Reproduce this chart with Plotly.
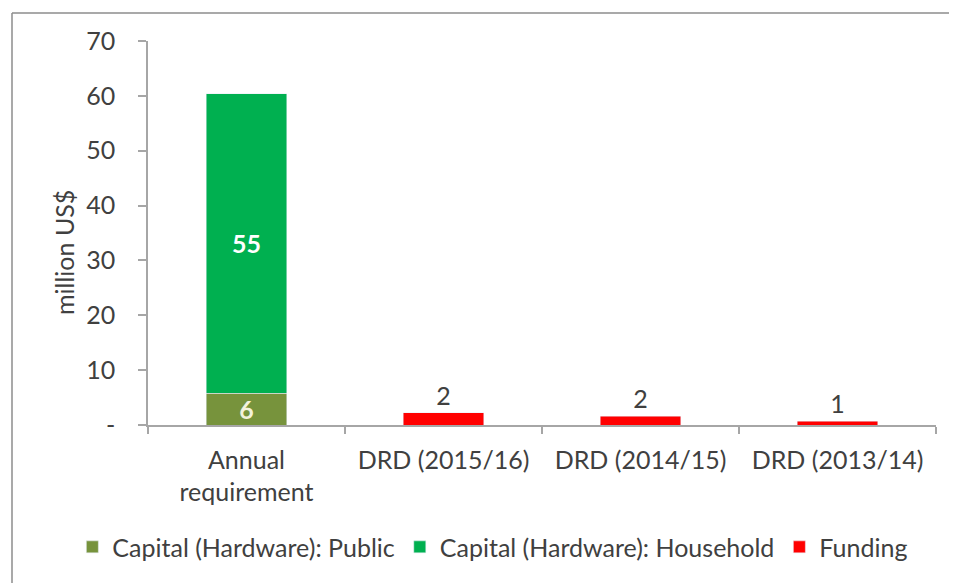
import plotly.graph_objects as go

categories = ["Annual<br>requirement", "DRD (2015/16)", "DRD (2014/15)", "DRD (2013/14)"]
public_vals = [5.8, None, None, None]
household_vals = [54.6, None, None, None]
funding_vals = [None, 2.2, 1.6, 0.7]
y_tickvals = [0, 10, 20, 30, 40, 50, 60, 70]
y_ticktext = ["-", "10", "20", "30", "40", "50", "60", "70"]

FONT = "Lato"
TXT = "#404040"
FS = 25

def lbl(vals):
    return ["" if v is None else f"{round(v):d}" for v in vals]

fig = go.Figure()
fig.add_trace(go.Bar(
    x=categories, y=public_vals, name="Capital (Hardware): Public",
    marker_color="#77933C", width=0.41,
    text=lbl(public_vals), textposition="inside", insidetextanchor="middle",
    textangle=0, constraintext="none",
    textfont=dict(family=FONT, size=FS, color="#F2F2DC", weight="bold"),
))
fig.add_trace(go.Bar(
    x=categories, y=household_vals, name="Capital (Hardware): Household",
    marker_color="#00B050", width=0.41,
    text=lbl(household_vals), textposition="inside", insidetextanchor="middle",
    textangle=0, constraintext="none",
    textfont=dict(family=FONT, size=FS, color="white", weight="bold"),
))
fig.add_trace(go.Bar(
    x=categories, y=funding_vals, name="Funding",
    marker_color="#FF0000", width=0.41,
    text=lbl(funding_vals), textposition="outside",
    textangle=0, constraintext="none",
    textfont=dict(family=FONT, size=FS, color=TXT),
    cliponaxis=False,
))

T, B = 33, 166
fig.update_layout(
    width=957, height=583,
    margin=dict(l=140, r=29, t=T, b=B, autoexpand=False),
    barmode="stack",
    plot_bgcolor="white", paper_bgcolor="white",
    font=dict(family=FONT, size=FS, color=TXT),
    showlegend=True,
    legend=dict(orientation="h", x=-0.096, xanchor="left", y=-0.318, yanchor="middle",
                font=dict(family=FONT, size=FS, color=TXT), traceorder="normal",
                itemwidth=30),
    uniformtext=dict(mode=None),
)
fig.update_xaxes(
    showline=True, linecolor="#A6A6A6", linewidth=1.5,
    ticks="outside", tickson="boundaries", ticklen=7, tickcolor="#A6A6A6", tickwidth=1.5,
    showgrid=False, tickfont=dict(family=FONT, size=FS, color=TXT),
    ticklabelstandoff=12,
)
fig.update_yaxes(
    range=[0, 70], tickvals=y_tickvals, ticktext=y_ticktext,
    showline=True, linecolor="#A6A6A6", linewidth=1.5,
    ticks="outside", ticklen=8, tickcolor="#A6A6A6", tickwidth=1.5,
    showgrid=False, zeroline=False,
    tickfont=dict(family=FONT, size=FS, color=TXT),
    ticklabelstandoff=18,
)

bottom = T + 384  # plot-area bottom in figure pixels

# y-axis title placed as in the reference (slightly below the plot centre)
fig.add_annotation(text="million US$", xref="paper", yref="paper",
                   x=(56 - 140) / 788, y=(bottom - 245) / 384, textangle=-90,
                   showarrow=False, xanchor="center", yanchor="middle",
                   font=dict(family=FONT, size=25, color=TXT))

# outer chart border (only top and left edges visible in the crop)
bx = (4 - 140) / 788
by = (bottom - 5) / 384
fig.add_shape(type="line", xref="paper", yref="paper", x0=bx, y0=by, x1=1.2, y1=by,
              line=dict(color="#8C8C8C", width=1.5))
fig.add_shape(type="line", xref="paper", yref="paper", x0=bx, y0=by, x1=bx, y1=-0.6,
              line=dict(color="#8C8C8C", width=1.5))

fig.write_html("out.html")
